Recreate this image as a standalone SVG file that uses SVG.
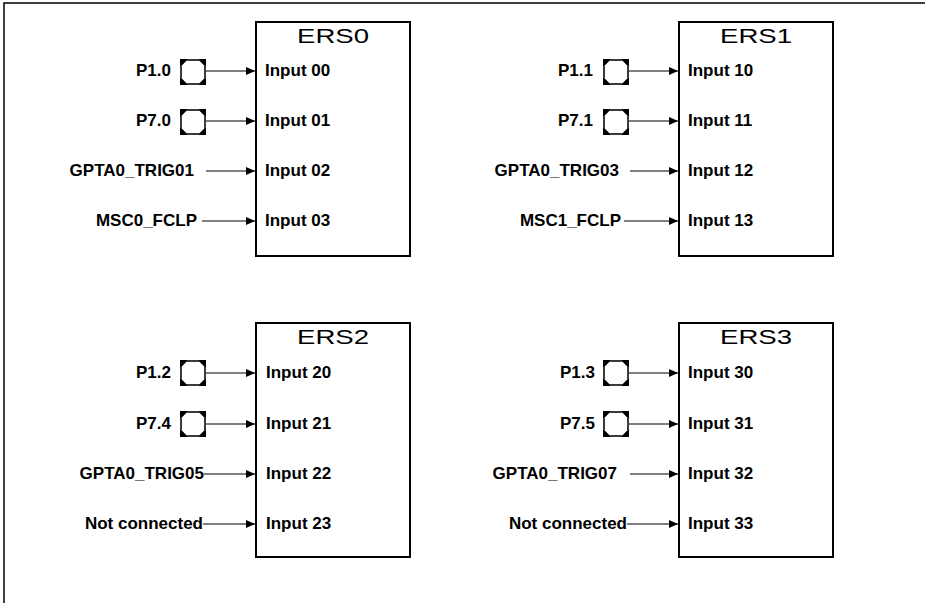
<svg xmlns="http://www.w3.org/2000/svg" xmlns:xlink="http://www.w3.org/1999/xlink" width="925" height="603" viewBox="0 0 925 603">
<style>
.box{fill:#fff;stroke:#000;stroke-width:2}
.title{font-family:"Liberation Sans",Arial,sans-serif;font-size:21px;fill:#000;text-anchor:middle}
.lbl{font-family:"Liberation Sans",Arial,sans-serif;font-size:17px;font-weight:bold;fill:#000}
.end{text-anchor:end}
.con{stroke:#000;stroke-width:1;fill:none;marker-end:url(#arr)}
.frame{stroke:#000;stroke-width:1.5;fill:none}
</style>
<defs>
<marker id="arr" markerUnits="userSpaceOnUse" markerWidth="10" markerHeight="9" refX="9" refY="4" orient="auto">
<path d="M0,0 L9,4 L0,8 z" fill="#000"/>
</marker>
<symbol id="pad" viewBox="0 0 26 26" width="26" height="26">
<rect x="1" y="1" width="24" height="24" fill="#fff" stroke="#000" stroke-width="2"/>
<polygon points="7,1 19,1 25,7 25,19 19,25 7,25 1,19 1,7" fill="none" stroke="#777" stroke-width="1"/>
<polygon points="1,1 7,1 1,7" fill="#000"/>
<polygon points="25,1 19,1 25,7" fill="#000"/>
<polygon points="1,25 7,25 1,19" fill="#000"/>
<polygon points="25,25 19,25 25,19" fill="#000"/>
</symbol>
</defs>
<path class="frame" d="M4,603 L4,3 L925,3"/>

<g id="ERS0">
<rect class="box" x="256" y="22" width="154" height="234"/>
<text class="title" x="333" y="43" textLength="72" lengthAdjust="spacingAndGlyphs">ERS0</text>
<text class="lbl" x="265" y="76">Input 00</text>
<text class="lbl" x="265" y="126">Input 01</text>
<text class="lbl" x="265" y="176">Input 02</text>
<text class="lbl" x="265" y="226">Input 03</text>
</g>
<g id="ERS1">
<rect class="box" x="679" y="22" width="154" height="234"/>
<text class="title" x="756" y="43" textLength="72" lengthAdjust="spacingAndGlyphs">ERS1</text>
<text class="lbl" x="688" y="76">Input 10</text>
<text class="lbl" x="688" y="126">Input 11</text>
<text class="lbl" x="688" y="176">Input 12</text>
<text class="lbl" x="688" y="226">Input 13</text>
</g>
<g id="ERS2">
<rect class="box" x="256" y="323" width="154" height="234"/>
<text class="title" x="333" y="344" textLength="72" lengthAdjust="spacingAndGlyphs">ERS2</text>
<text class="lbl" x="266" y="378">Input 20</text>
<text class="lbl" x="266" y="429">Input 21</text>
<text class="lbl" x="266" y="479">Input 22</text>
<text class="lbl" x="266" y="529">Input 23</text>
</g>
<g id="ERS3">
<rect class="box" x="679" y="323" width="154" height="234"/>
<text class="title" x="756" y="344" textLength="72" lengthAdjust="spacingAndGlyphs">ERS3</text>
<text class="lbl" x="688" y="378">Input 30</text>
<text class="lbl" x="688" y="429">Input 31</text>
<text class="lbl" x="688" y="479">Input 32</text>
<text class="lbl" x="688" y="529">Input 33</text>
</g>

<g id="src-P1.0"><text class="lbl end" x="171" y="76">P1.0</text><use xlink:href="#pad" href="#pad" x="180" y="59"/></g>
<g id="src-P7.0"><text class="lbl end" x="171" y="126">P7.0</text><use xlink:href="#pad" href="#pad" x="180" y="109"/></g>
<g id="src-GPTA0_TRIG01"><text class="lbl end" x="194" y="176">GPTA0_TRIG01</text></g>
<g id="src-MSC0_FCLP"><text class="lbl end" x="197" y="226">MSC0_FCLP</text></g>

<g id="src-P1.1"><text class="lbl end" x="593" y="76">P1.1</text><use xlink:href="#pad" href="#pad" x="603" y="59"/></g>
<g id="src-P7.1"><text class="lbl end" x="593" y="126">P7.1</text><use xlink:href="#pad" href="#pad" x="603" y="109"/></g>
<g id="src-GPTA0_TRIG03"><text class="lbl end" x="619" y="176">GPTA0_TRIG03</text></g>
<g id="src-MSC1_FCLP"><text class="lbl end" x="621" y="226">MSC1_FCLP</text></g>

<g id="src-P1.2"><text class="lbl end" x="171" y="378">P1.2</text><use xlink:href="#pad" href="#pad" x="180" y="360"/></g>
<g id="src-P7.4"><text class="lbl end" x="171" y="429">P7.4</text><use xlink:href="#pad" href="#pad" x="180" y="411"/></g>
<g id="src-GPTA0_TRIG05"><text class="lbl end" x="204" y="479">GPTA0_TRIG05</text></g>
<g id="src-NC2"><text class="lbl end" x="203" y="529">Not connected</text></g>

<g id="src-P1.3"><text class="lbl end" x="595" y="378">P1.3</text><use xlink:href="#pad" href="#pad" x="603" y="360"/></g>
<g id="src-P7.5"><text class="lbl end" x="595" y="429">P7.5</text><use xlink:href="#pad" href="#pad" x="603" y="411"/></g>
<g id="src-GPTA0_TRIG07"><text class="lbl end" x="617" y="479">GPTA0_TRIG07</text></g>
<g id="src-NC3"><text class="lbl end" x="627" y="529">Not connected</text></g>

<g id="connectors">
<line class="con" x1="206" y1="71" x2="255" y2="71"/>
<line class="con" x1="206" y1="121" x2="255" y2="121"/>
<line class="con" x1="206" y1="171" x2="255" y2="171"/>
<line class="con" x1="202" y1="221" x2="255" y2="221"/>
<line class="con" x1="629" y1="71" x2="678" y2="71"/>
<line class="con" x1="629" y1="121" x2="678" y2="121"/>
<line class="con" x1="630" y1="171" x2="678" y2="171"/>
<line class="con" x1="624" y1="221" x2="678" y2="221"/>
<line class="con" x1="206" y1="373" x2="255" y2="373"/>
<line class="con" x1="206" y1="424" x2="255" y2="424"/>
<line class="con" x1="204" y1="474" x2="255" y2="474"/>
<line class="con" x1="203" y1="524" x2="255" y2="524"/>
<line class="con" x1="629" y1="373" x2="678" y2="373"/>
<line class="con" x1="629" y1="424" x2="678" y2="424"/>
<line class="con" x1="630" y1="474" x2="678" y2="474"/>
<line class="con" x1="627" y1="524" x2="678" y2="524"/>
</g>
</svg>
